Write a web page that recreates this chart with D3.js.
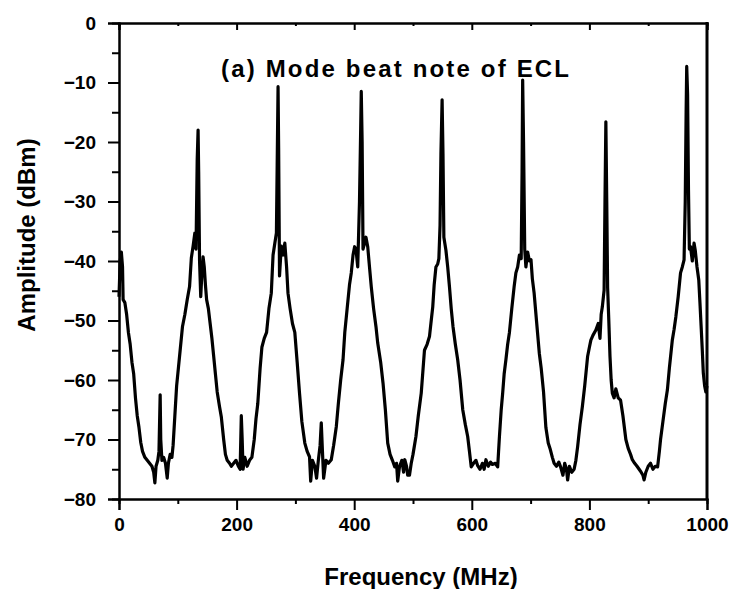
<!DOCTYPE html>
<html>
<head>
<meta charset="utf-8">
<script src="https://cdn.jsdelivr.net/npm/d3@7"></script>
<style>
  body { margin: 0; background: #fff; }
  svg text { font-family: "Liberation Sans", Arial, sans-serif; font-weight: bold; fill: #000; }
</style>
</head>
<body>
<div id="viz"></div>
<script>
// spectrum trace (MHz, dBm)
var freqMHz = [0, 2, 4, 6, 7, 10, 13, 16, 19, 22, 25, 28, 31, 34, 37, 40, 44, 48, 52, 56, 59, 61, 63, 66, 68, 70, 71, 73, 76, 79,
  82, 84, 87, 90, 92, 95, 98, 101, 104, 108, 112, 116, 120, 123, 126, 129, 131, 133, 134.5, 135.5, 137, 139, 141, 143, 145, 147, 149, 152, 155, 158,
  161, 164, 167, 171, 174, 178, 181, 184, 188, 191, 195, 199, 203, 206, 208, 209.5, 211, 214, 218, 222, 226, 230, 233, 236, 240, 243, 247, 251, 255, 259,
  262, 265, 267.7, 269, 270.5, 271.5, 273, 276, 279, 282, 285, 287.4, 291, 295, 299, 303, 307, 311, 316, 320, 324, 326, 329, 333, 336, 339, 342, 344, 346, 348,
  352, 356, 361, 365, 369.6, 373, 377, 381, 384, 388, 392, 395, 398, 400.7, 403, 406, 409, 411, 412, 413.5, 415, 417.7, 420, 423, 426, 429, 433, 437, 440, 445,
  449, 453, 457, 461, 465, 469, 472, 474, 477, 481, 484, 486, 489, 491, 494, 497, 500, 505, 509, 514, 519.5, 524, 528, 531, 533.6, 536, 539, 542, 544, 546,
  547.5, 549.5, 551, 552.5, 556, 559, 562, 565, 568, 572, 576, 580, 584.6, 589, 593, 596, 599, 603, 607, 610, 614, 618, 621, 624, 628, 632, 635, 640, 644, 647,
  650, 652.5, 655, 658, 661, 664, 668, 672, 675, 678, 681, 684, 685.5, 686.5, 688, 690, 692, 695, 698, 700.7, 703, 706, 710, 714.8, 718, 722, 726, 730, 733, 737,
  740, 744, 748, 751, 755, 758, 761, 763, 766, 770, 774, 777, 780, 784, 788, 792, 797, 800, 802.5, 806, 811, 815, 818, 820, 822, 825, 826.5, 828, 829.5, 831,
  833, 835, 837, 839, 842, 845, 849, 853, 857, 862, 866, 870, 873, 877, 881, 884.6, 888, 891, 893, 896, 900, 904, 908, 912, 916, 919, 921, 925, 929, 932.6,
  936, 941, 944, 947, 951, 955, 958, 961, 963, 964.5, 965.5, 967, 968.5, 970, 972, 975, 978, 980, 983, 986, 988, 990, 992, 993.7, 996, 998, 1000];

var ampDBm = [-46, -40, -38.5, -41, -46.5, -47, -49, -52, -54, -57, -59, -63, -66, -68, -70.5, -72, -73, -73.5, -74, -74.5, -75.5, -77.3, -74.5, -73.5, -72, -62.5, -70, -73.5, -73, -74,
  -76.5, -74, -72.5, -73, -71, -66, -61, -58, -55, -51, -49, -46.5, -44.3, -39.5, -37.5, -35.3, -38, -23, -18, -25, -40, -46, -42, -39.3, -41, -44, -46.5, -48, -50.5, -53,
  -56, -59, -62, -64.5, -66.2, -70, -72.5, -73.5, -74, -74.5, -74, -73.5, -74.5, -75, -66, -70, -75, -73, -74.5, -73.5, -73, -70, -66.5, -64, -58, -54.5, -53, -52, -48, -45.4,
  -39, -37, -35.3, -24, -10.7, -21, -42.5, -37.5, -39, -37, -41, -45.4, -48, -50.5, -52, -57, -62.2, -67, -70.6, -72, -72.9, -77, -73.5, -74.5, -76.5, -73.5, -71, -67.2, -72, -76.5,
  -73.5, -74, -73.4, -71, -67.8, -64, -60, -56.6, -52, -48, -44, -42, -39, -37.6, -38, -41, -30, -18, -11.5, -20, -38, -37, -36, -37.6, -41, -44.3, -48, -51, -53.8, -57,
  -60.5, -65, -70.6, -72.5, -73.5, -74.6, -74, -77, -74.6, -73.5, -75.5, -73.4, -74.5, -76, -76, -74, -72.5, -69.5, -66, -62.2, -55, -54, -52.7, -50, -47.7, -44, -41, -40.5, -39.6, -34,
  -22, -12.9, -22, -36, -38.2, -41, -44.3, -48, -51, -54, -56.6, -60, -65, -67.5, -69.5, -72, -74.6, -74, -73.5, -74.4, -75, -74, -75, -73.4, -74.5, -73.8, -74.2, -74, -74.6, -69.5,
  -65, -62.2, -59, -56.6, -54, -52, -48, -44.3, -42, -41, -39, -39.6, -25, -9.6, -20, -38, -41, -38.5, -40, -39.8, -43, -45.4, -50, -55.5, -58, -62, -68, -70.6, -71.5, -73,
  -74, -74.5, -73.8, -74.6, -76, -74, -75, -76.8, -74.5, -75.5, -75, -73.5, -71.2, -67.5, -64.5, -61, -56, -54.5, -53.3, -52.5, -51.6, -50.5, -53, -49, -47.7, -44.9, -30, -16.6, -30, -44.5,
  -50, -56, -60, -62.2, -63, -61.5, -63, -63.4, -66, -70, -71.5, -72.5, -73.4, -74, -74.5, -75, -75.5, -76, -76.8, -75.5, -74.5, -74, -75, -74.5, -74.6, -72, -70, -67, -64, -61.7,
  -58, -53.3, -51.5, -49.4, -46, -42, -41, -39.8, -30, -15, -7.3, -12, -28, -38, -37.6, -40, -37, -38.2, -41, -43.2, -47, -51, -55, -58.8, -61, -62, -61];

var xTicks = [0, 200, 400, 600, 800, 1000];
var xMinor = [100, 300, 500, 700, 900];
var yTicks = [0, -10, -20, -30, -40, -50, -60, -70, -80];
var yMinor = [-5, -15, -25, -35, -45, -55, -65, -75];

var width = 736, height = 589,
    margin = {top: 23, right: 29, bottom: 90, left: 119};

var svg = d3.select("div#viz").append("svg")
            .attr("width", width)
            .attr("height", height);

var x = d3.scaleLinear().domain([0, 1000]).range([margin.left, width - margin.right]);
var y = d3.scaleLinear().domain([-80, 0]).range([height - margin.bottom, margin.top]);

// data trace
var pts = freqMHz.map(function(f, i) { return [f, ampDBm[i]]; });
svg.append("path")
   .datum(pts)
   .attr("fill", "none")
   .attr("stroke", "#000")
   .attr("stroke-width", 3.2)
   .attr("stroke-linejoin", "round")
   .attr("d", d3.line().x(function(d) { return x(d[0]); }).y(function(d) { return y(d[1]); }));

// bottom axis
var bottomAxis = svg.append("g").attr("transform", "translate(0," + y(-80) + ")");
bottomAxis.call(d3.axisBottom(x).tickValues(xTicks).tickSize(11).tickPadding(8).tickFormat(d3.format("d")));
bottomAxis.append("g").call(d3.axisBottom(x).tickValues(xMinor).tickSize(5).tickFormat(""));
// top axis, ticks pointing into the plot
var topAxis = svg.append("g").attr("transform", "translate(0," + y(0) + ")");
topAxis.call(d3.axisBottom(x).tickValues(xTicks).tickSize(7).tickFormat(""));
topAxis.append("g").call(d3.axisBottom(x).tickValues(xMinor).tickSize(3).tickFormat(""));
// left axis
var leftAxis = svg.append("g").attr("transform", "translate(" + x(0) + ",0)");
leftAxis.call(d3.axisLeft(y).tickValues(yTicks).tickSize(11).tickPadding(12).tickFormat(d3.format("d")));
leftAxis.append("g").call(d3.axisLeft(y).tickValues(yMinor).tickSize(7).tickFormat(""));
// right axis
svg.append("line")
   .attr("x1", x(1000)).attr("x2", x(1000))
   .attr("y1", y(0) - 1).attr("y2", y(-80) + 1)
   .attr("stroke", "#000").attr("stroke-width", 3);

svg.selectAll(".domain").attr("stroke-width", 2).attr("stroke", "#000");
svg.selectAll(".tick line").attr("stroke-width", 2).attr("stroke", "#000");
svg.selectAll(".tick text").style("font-size", "19px").style("font-family", "'Liberation Sans', Arial, sans-serif").style("font-weight", "bold");

// titles
svg.append("text")
   .attr("x", 421).attr("y", 585)
   .attr("text-anchor", "middle")
   .style("font-size", "24px")
   .text("Frequency (MHz)");

svg.append("text")
   .attr("transform", "translate(35," + 235 + ") rotate(-90)")
   .attr("text-anchor", "middle")
   .style("font-size", "24px")
   .text("Amplitude (dBm)");

svg.append("text")
   .attr("x", 221).attr("y", 77)
   .attr("textLength", 348)
   .attr("lengthAdjust", "spacing")
   .style("font-size", "24px")
   .text("(a) Mode beat note of ECL");
</script>
</body>
</html>
